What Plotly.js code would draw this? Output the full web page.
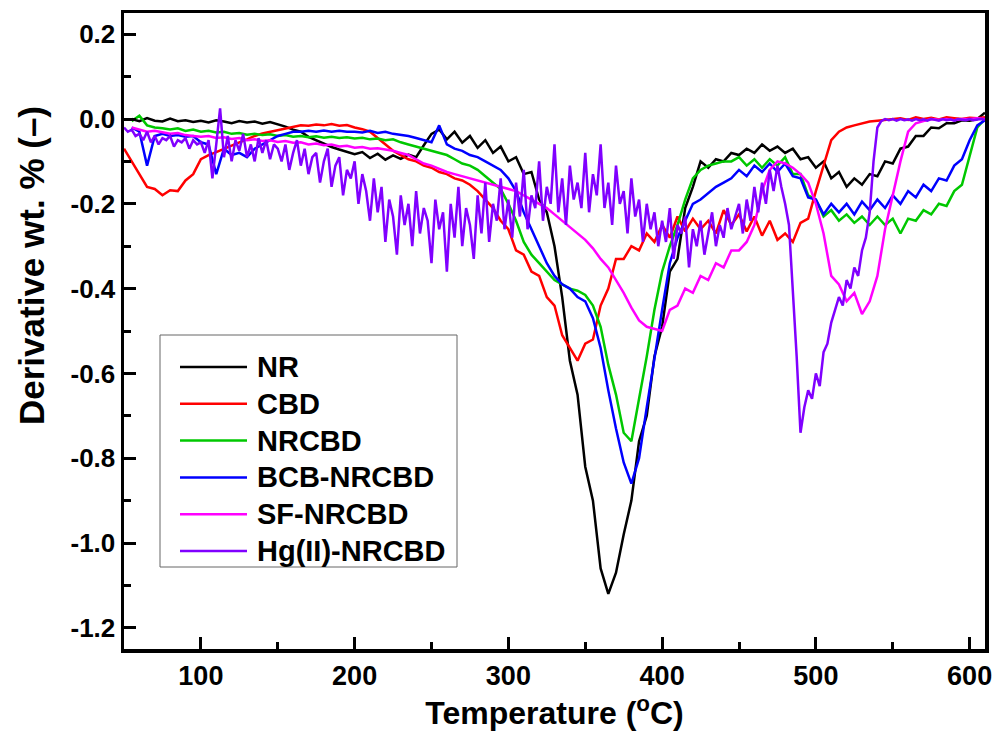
<!DOCTYPE html>
<html>
<head>
<meta charset="utf-8">
<script src="https://cdn.plot.ly/plotly-3.0.1.min.js"></script>
<style>html,body{margin:0;padding:0;background:#fff;}#chart{width:996px;height:733px;}</style>
</head>
<body>
<div id="chart"></div>
<script>
const temperature = [
 50,55,60,65,70,75,80,85,90,95,
 100,105,110,115,120,125,130,135,140,145,
 150,155,160,165,170,175,180,185,190,195,
 200,205,210,215,220,225,230,235,240,245,
 250,255,260,265,270,275,280,285,290,295,
 300,305,310,315,320,325,330,335,340,345,
 350,355,360,365,370,375,380,385,390,395,
 400,405,410,415,420,425,430,435,440,445,
 450,455,460,465,470,475,480,485,490,495,
 500,505,510,515,520,525,530,535,540,545,
 550,555,560,565,570,575,580,585,590,595,
 600,605,610];

const temperatureHg = [
 50,52.5,55,57.5,60,62.5,65,67.5,70,72.5,75,77.5,80,82.5,85,87.5,90,92.5,95,97.5,
 100,102.5,105,107.5,110,112.5,115,117.5,120,122.5,125,127.5,130,132.5,135,137.5,140,142.5,145,147.5,
 150,152.5,155,157.5,160,162.5,165,167.5,170,172.5,175,177.5,180,182.5,185,187.5,190,192.5,195,197.5,
 200,202.5,205,207.5,210,212.5,215,217.5,220,222.5,225,227.5,230,232.5,235,237.5,240,242.5,245,247.5,
 250,252.5,255,257.5,260,262.5,265,267.5,270,272.5,275,277.5,280,282.5,285,287.5,290,292.5,295,297.5,
 300,302.5,305,307.5,310,312.5,315,317.5,320,322.5,325,327.5,330,332.5,335,337.5,340,342.5,345,347.5,
 350,352.5,355,357.5,360,362.5,365,367.5,370,372.5,375,377.5,380,382.5,385,387.5,390,392.5,395,397.5,
 400,402.5,405,407.5,410,412.5,415,417.5,420,422.5,425,427.5,430,432.5,435,437.5,440,442.5,445,447.5,
 450,452.5,455,457.5,460,462.5,465,467.5,470,472.5,475,477.5,480,482.5,485,487.5,490,492.5,495,497.5,
 500,502.5,505,507.5,510,512.5,515,517.5,520,522.5,525,527.5,530,532.5,535,537.5,540,542.5,545,547.5,
 550,552.5,555,557.5,560,562.5,565,567.5,570,572.5,575,577.5,580,582.5,585,587.5,590,592.5,595,597.5,
 600,602.5,605,607.5,610];

const NR = [
 null,0.0,-0.005,0.002,-0.004,-0.006,0.001,-0.005,-0.003,-0.007,
 -0.004,-0.008,-0.003,-0.006,-0.01,-0.005,-0.008,-0.006,-0.011,-0.007,
 -0.012,-0.018,-0.025,-0.03,-0.042,-0.05,-0.058,-0.066,-0.072,-0.078,
 -0.083,-0.078,-0.092,-0.082,-0.096,-0.086,-0.094,-0.084,-0.09,-0.062,
 -0.035,-0.025,-0.048,-0.03,-0.056,-0.04,-0.068,-0.05,-0.08,-0.065,
 -0.1,-0.09,-0.13,-0.125,-0.19,-0.22,-0.3,-0.42,-0.57,-0.65,
 -0.82,-0.9,-1.06,-1.12,-1.07,-0.98,-0.9,-0.76,-0.7,-0.56,
 -0.49,-0.36,-0.33,-0.21,-0.16,-0.1,-0.115,-0.095,-0.1,-0.08,
 -0.085,-0.07,-0.08,-0.06,-0.075,-0.065,-0.08,-0.07,-0.095,-0.09,
 -0.115,-0.1,-0.14,-0.125,-0.16,-0.14,-0.155,-0.13,-0.135,-0.1,
 -0.105,-0.07,-0.065,-0.04,-0.04,-0.02,-0.022,-0.01,-0.01,-0.003,
 -0.004,0.0,0.015];

const CBD = [
 -0.07,-0.1,-0.13,-0.16,-0.165,-0.18,-0.168,-0.17,-0.145,-0.13,
 -0.095,-0.085,-0.078,-0.07,-0.062,-0.055,-0.048,-0.04,-0.034,-0.03,
 -0.026,-0.022,-0.018,-0.015,-0.016,-0.013,-0.015,-0.012,-0.016,-0.014,
 -0.02,-0.024,-0.03,-0.045,-0.06,-0.075,-0.085,-0.095,-0.1,-0.11,
 -0.115,-0.125,-0.13,-0.14,-0.145,-0.155,-0.17,-0.19,-0.21,-0.24,
 -0.26,-0.31,-0.32,-0.36,-0.37,-0.42,-0.44,-0.51,-0.54,-0.57,
 -0.53,-0.52,-0.44,-0.4,-0.33,-0.33,-0.3,-0.31,-0.27,-0.29,
 -0.25,-0.28,-0.23,-0.265,-0.235,-0.26,-0.24,-0.27,-0.215,-0.25,
 -0.225,-0.265,-0.23,-0.275,-0.24,-0.285,-0.27,-0.29,-0.245,-0.235,
 -0.17,-0.11,-0.05,-0.03,-0.02,-0.015,-0.01,-0.006,-0.004,-0.002,
 0.0,0.002,-0.002,0.004,0.0,0.003,-0.001,0.004,0.002,0.0,
 0.003,0.002,0.004];

const NRCBD = [
 null,-0.005,0.008,-0.015,-0.02,-0.022,-0.025,-0.022,-0.028,-0.025,
 -0.03,-0.028,-0.032,-0.03,-0.035,-0.033,-0.037,-0.035,-0.038,-0.036,
 -0.04,-0.038,-0.042,-0.04,-0.043,-0.041,-0.044,-0.042,-0.045,-0.043,
 -0.046,-0.044,-0.048,-0.046,-0.05,-0.048,-0.055,-0.06,-0.065,-0.07,
 -0.075,-0.08,-0.085,-0.095,-0.105,-0.11,-0.12,-0.135,-0.15,-0.165,
 -0.2,-0.24,-0.29,-0.32,-0.34,-0.36,-0.38,-0.39,-0.4,-0.405,
 -0.415,-0.44,-0.49,-0.58,-0.65,-0.74,-0.76,-0.66,-0.56,-0.45,
 -0.36,-0.3,-0.25,-0.19,-0.14,-0.12,-0.11,-0.105,-0.1,-0.1,
 -0.09,-0.11,-0.095,-0.115,-0.095,-0.11,-0.09,-0.13,-0.13,-0.18,
 -0.19,-0.23,-0.215,-0.24,-0.225,-0.245,-0.23,-0.25,-0.23,-0.25,
 -0.235,-0.27,-0.235,-0.24,-0.215,-0.225,-0.2,-0.205,-0.17,-0.155,
 -0.09,-0.02,0.0];

const BCB_NRCBD = [
 null,-0.02,-0.03,-0.11,-0.04,-0.035,-0.04,-0.038,-0.042,-0.04,
 -0.055,-0.06,-0.13,-0.07,-0.085,-0.08,-0.09,-0.07,-0.06,-0.05,
 -0.04,-0.035,-0.03,-0.03,-0.028,-0.03,-0.027,-0.03,-0.028,-0.03,
 -0.03,-0.032,-0.028,-0.033,-0.03,-0.035,-0.038,-0.04,-0.045,-0.05,
 -0.055,-0.015,-0.06,-0.07,-0.075,-0.085,-0.09,-0.1,-0.11,-0.12,
 -0.14,-0.17,-0.22,-0.26,-0.3,-0.34,-0.37,-0.39,-0.4,-0.42,
 -0.43,-0.47,-0.54,-0.64,-0.73,-0.81,-0.86,-0.8,-0.68,-0.56,
 -0.45,-0.34,-0.28,-0.24,-0.2,-0.19,-0.175,-0.16,-0.15,-0.14,
 -0.12,-0.135,-0.11,-0.125,-0.105,-0.125,-0.105,-0.135,-0.14,-0.185,
 -0.19,-0.225,-0.2,-0.22,-0.2,-0.225,-0.195,-0.215,-0.19,-0.21,
 -0.18,-0.2,-0.17,-0.185,-0.155,-0.17,-0.14,-0.145,-0.11,-0.095,
 -0.05,-0.015,-0.003];

const SF_NRCBD = [
 null,-0.02,-0.025,-0.03,-0.028,-0.032,-0.035,-0.033,-0.038,-0.04,
 -0.042,-0.04,-0.045,-0.043,-0.047,-0.045,-0.05,-0.048,-0.052,-0.05,
 -0.054,-0.052,-0.056,-0.055,-0.06,-0.058,-0.062,-0.06,-0.065,-0.063,
 -0.068,-0.066,-0.07,-0.069,-0.072,-0.075,-0.08,-0.085,-0.095,-0.105,
 -0.11,-0.118,-0.125,-0.13,-0.135,-0.14,-0.145,-0.15,-0.155,-0.16,
 -0.165,-0.17,-0.18,-0.19,-0.2,-0.21,-0.225,-0.24,-0.255,-0.27,
 -0.285,-0.305,-0.33,-0.35,-0.38,-0.41,-0.445,-0.475,-0.49,-0.495,
 -0.5,-0.45,-0.44,-0.4,-0.41,-0.37,-0.38,-0.34,-0.35,-0.31,
 -0.31,-0.29,-0.25,-0.17,-0.12,-0.1,-0.105,-0.115,-0.13,-0.15,
 -0.2,-0.27,-0.37,-0.39,-0.43,-0.41,-0.46,-0.43,-0.37,-0.26,
 -0.18,-0.1,-0.03,-0.01,-0.005,0.0,-0.002,0.0,-0.003,0.0,
 0.0,0.002,0.0];

const HgII_NRCBD = [
 -0.02,-0.03,-0.025,-0.04,-0.035,-0.05,-0.03,-0.055,-0.04,-0.06,-0.045,-0.05,-0.04,-0.065,-0.05,-0.055,-0.045,-0.07,-0.05,-0.06,
 -0.055,-0.08,-0.05,-0.14,-0.06,0.025,-0.09,-0.04,-0.1,-0.05,-0.075,-0.035,-0.09,-0.06,-0.1,-0.045,-0.08,-0.05,-0.095,-0.06,
 -0.07,-0.1,-0.06,-0.12,-0.08,-0.05,-0.11,-0.07,-0.13,-0.09,-0.08,-0.15,-0.1,-0.07,-0.16,-0.11,-0.09,-0.18,-0.12,-0.14,
 -0.1,-0.2,-0.13,-0.17,-0.24,-0.14,-0.22,-0.16,-0.29,-0.19,-0.23,-0.32,-0.18,-0.25,-0.2,-0.3,-0.17,-0.27,-0.21,-0.24,
 -0.34,-0.19,-0.26,-0.22,-0.36,-0.2,-0.28,-0.16,-0.3,-0.21,-0.25,-0.33,-0.18,-0.27,-0.15,-0.29,-0.2,-0.24,-0.14,-0.26,
 -0.19,-0.28,-0.15,-0.23,-0.12,-0.26,-0.18,-0.21,-0.1,-0.24,-0.16,-0.2,-0.06,-0.22,-0.14,-0.25,-0.11,-0.19,-0.15,-0.21,
 -0.08,-0.22,-0.13,-0.18,-0.06,-0.21,-0.15,-0.25,-0.11,-0.2,-0.17,-0.27,-0.14,-0.23,-0.19,-0.29,-0.2,-0.26,-0.22,-0.3,
 -0.24,-0.29,-0.21,-0.33,-0.25,-0.27,-0.23,-0.35,-0.26,-0.3,-0.24,-0.32,-0.27,-0.22,-0.3,-0.25,-0.28,-0.21,-0.26,-0.23,
 -0.2,-0.27,-0.19,-0.24,-0.16,-0.22,-0.15,-0.2,-0.12,-0.17,-0.11,-0.16,-0.2,-0.25,-0.4,-0.56,-0.74,-0.68,-0.64,-0.66,
 -0.6,-0.63,-0.55,-0.53,-0.48,-0.45,-0.42,-0.44,-0.38,-0.4,-0.35,-0.37,-0.31,-0.28,-0.22,-0.1,-0.02,-0.005,0.0,-0.003,
 0.0,-0.004,0.0,-0.003,-0.001,-0.004,0.0,-0.003,-0.001,-0.004,0.0,-0.002,-0.004,0.0,-0.003,-0.001,-0.004,0.0,-0.002,-0.003,
 0.0,-0.003,-0.001,0.0,-0.002];

const seriesNames = ['NR','CBD','NRCBD','BCB-NRCBD','SF-NRCBD','Hg(II)-NRCBD'];
const seriesX = [temperature, temperature, temperature, temperature, temperature, temperatureHg];
const seriesValues = [NR, CBD, NRCBD, BCB_NRCBD, SF_NRCBD, HgII_NRCBD];
const seriesColors = ['#000000','#FF0000','#00C800','#0000FF','#FF00FF','#8000FF'];

const xTickVals = [100,200,300,400,500,600];
const yTickVals = [0.2,0.0,-0.2,-0.4,-0.6,-0.8,-1.0,-1.2];
const yTickText = ['0.2','0.0','-0.2','-0.4','-0.6','-0.8','-1.0','-1.2'];

const traces = seriesNames.map((n,i)=>({
  x: seriesX[i], y: seriesValues[i], name: n, type:'scatter', mode:'lines',
  line:{color: seriesColors[i], width:2.5}, connectgaps:false, showlegend:false
}));

const F = 'Liberation Sans, Arial, sans-serif';

// plot-area geometry (pixels) used for the hand-placed legend box
const W = 996, H = 733, ML = 124, MR = 11, MT = 13, MB = 84;
const PW = W - ML - MR, PH = H - MT - MB;
const px = v => (v - ML) / PW;
const py = v => (H - MB - v) / PH;

const shapes = [{
  type:'rect', xref:'paper', yref:'paper',
  x0:px(160), x1:px(457), y0:py(567), y1:py(335),
  line:{color:'#666', width:1}, fillcolor:'#fff', layer:'above'
}];
const annotations = [];
seriesNames.forEach((n,i)=>{
  const yy = 367 + 36.8*i;
  shapes.push({type:'line', xref:'paper', yref:'paper', x0:px(180), x1:px(247), y0:py(yy), y1:py(yy),
    line:{color:seriesColors[i], width:2.5}, layer:'above'});
  annotations.push({xref:'paper', yref:'paper', x:px(255), y:py(yy), xanchor:'left', yanchor:'middle',
    text:n, showarrow:false, font:{family:F, size:29, weight:'bold', color:'#000'}});
});
annotations.push({xref:'paper', yref:'paper', x:px(31), y:py(266), xanchor:'center', yanchor:'middle',
  textangle:-90, text:'Derivative wt. % (–)', showarrow:false,
  font:{family:F, size:35, weight:'bold', color:'#000'}});

const layout = {
  width:W, height:H,
  margin:{l:ML, r:MR, t:MT, b:MB},
  paper_bgcolor:'#fff', plot_bgcolor:'#fff',
  showlegend:false,
  shapes: shapes,
  annotations: annotations,
  xaxis:{
    range:[50,610], tickvals:xTickVals, ticks:'inside', ticklen:12, tickwidth:3, tickcolor:'#000',
    minor:{dtick:50, tick0:0, ticks:'inside', ticklen:7, tickwidth:3, tickcolor:'#000'},
    showline:true, linewidth:3.5, linecolor:'#000', mirror:true,
    showgrid:false, zeroline:false,
    tickfont:{family:F, size:27, weight:'bold', color:'#000'},
    title:{text:'Temperature (<sup>o</sup>C)', font:{family:F, size:32, weight:'bold', color:'#000'}, standoff:8}
  },
  yaxis:{
    range:[-1.25,0.25], tickvals:yTickVals, ticktext:yTickText, ticks:'inside', ticklen:12, tickwidth:3, tickcolor:'#000',
    minor:{dtick:0.1, tick0:0, ticks:'inside', ticklen:7, tickwidth:3, tickcolor:'#000'},
    showline:true, linewidth:3.5, linecolor:'#000', mirror:true,
    showgrid:false, zeroline:false,
    tickfont:{family:F, size:26, weight:'bold', color:'#000'}
  }
};

Plotly.newPlot('chart', traces, layout, {displayModeBar:false, staticPlot:true});
</script>
</body>
</html>
